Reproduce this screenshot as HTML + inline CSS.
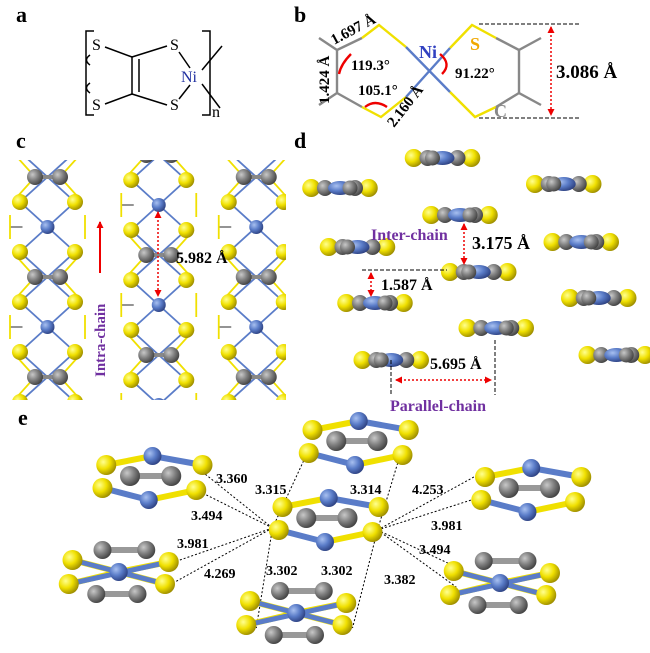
<!DOCTYPE html>
<html><head><meta charset="utf-8"><style>
html,body{margin:0;padding:0;background:#fff}
svg{display:block}
text{font-family:"Liberation Serif",serif}
</style></head><body>
<svg id="s" width="650" height="653" viewBox="0 0 650 653" xmlns="http://www.w3.org/2000/svg">
<defs>
<radialGradient id="gy" cx="35%" cy="35%" r="70%"><stop offset="0" stop-color="#ffff90"/><stop offset=".5" stop-color="#f0e000"/><stop offset="1" stop-color="#9a8a00"/></radialGradient>
<radialGradient id="gg" cx="35%" cy="35%" r="70%"><stop offset="0" stop-color="#c8c8c8"/><stop offset=".5" stop-color="#808080"/><stop offset="1" stop-color="#404040"/></radialGradient>
<radialGradient id="gb" cx="35%" cy="35%" r="70%"><stop offset="0" stop-color="#a8c0f0"/><stop offset=".5" stop-color="#5a7cc8"/><stop offset="1" stop-color="#2c4080"/></radialGradient>
<clipPath id="cc"><rect x="0" y="160" width="286" height="240"/></clipPath>
<marker id="ar" markerUnits="userSpaceOnUse" markerWidth="7" markerHeight="7" refX="6" refY="3.5" orient="auto"><path d="M0,0 L7,3.5 L0,7 z" fill="#e00"/></marker>
<marker id="as" markerUnits="userSpaceOnUse" markerWidth="7" markerHeight="7" refX="1" refY="3.5" orient="auto"><path d="M7,0 L0,3.5 L7,7 z" fill="#e00"/></marker>
</defs>
<g font-weight="bold" font-size="22" fill="#000">
<text x="16" y="22">a</text><text x="294" y="22">b</text><text x="16" y="148">c</text><text x="294" y="148">d</text><text x="18" y="425">e</text>
</g>
<!-- panel a -->
<g stroke="#000" stroke-width="1.5" fill="none">
<path d="M94,31 H86 V115 H94"/><path d="M202,31 H210 V115 H202"/>
<path d="M90,55 q-7,5 0,10"/><path d="M90,83 q-7,5 0,10"/>
<line x1="105" y1="47" x2="132" y2="57"/><line x1="105" y1="104" x2="132" y2="94"/>
<line x1="132" y1="57" x2="132" y2="94"/><line x1="139" y1="59" x2="139" y2="92"/>
<line x1="132" y1="57" x2="167" y2="46"/><line x1="132" y1="94" x2="167" y2="105"/>
<line x1="179" y1="52" x2="190" y2="68"/><line x1="179" y1="99" x2="190" y2="85"/>
<line x1="202" y1="70" x2="222" y2="46"/><line x1="202" y1="84" x2="220" y2="108"/>
</g>
<g font-size="16"><text x="92" y="50">S</text><text x="92" y="110">S</text><text x="170" y="50">S</text><text x="170" y="110">S</text>
<text x="181" y="82" fill="#2030a0">Ni</text><text x="212" y="117">n</text></g>
<!-- panel b -->
<g stroke-width="2.4" fill="none">
<g stroke="#888"><path d="M319,38 L337,50 L337,93 L319,105"/><path d="M337,50 L362,38"/><path d="M337,93 L362,107"/>
<path d="M541,38 L519,50 L519,93 L541,105"/><path d="M496,38 L519,50"/><path d="M496,107 L519,93"/></g>
<g stroke="#f0e000"><path d="M362,38 L379,25 L406,47"/><path d="M362,107 L381,117 L406,97"/><path d="M450,48 L472,25 L496,38"/><path d="M450,92 L475,117 L496,107"/></g>
<g stroke="#5a7cc8"><path d="M406,47 L450,92"/><path d="M406,97 L450,48"/></g>
<g stroke="#e00"><path d="M351,54 q-10,10 -12,20"/><path d="M365,107 q10,-8 22,0"/><path d="M442,74 q10,-10 -2,-20"/></g>
</g>
<g stroke="#000" stroke-dasharray="4,2" stroke-width="1"><line x1="479" y1="24" x2="579" y2="24"/><line x1="479" y1="118" x2="579" y2="118"/></g>
<line x1="551" y1="27" x2="551" y2="115" stroke="#e00" stroke-width="1.5" stroke-dasharray="2,2" marker-start="url(#as)" marker-end="url(#ar)"/>
<g font-weight="bold" font-size="15"><text x="334" y="45" transform="rotate(-28 334 45)">1.697 Å</text>
<text x="329" y="104" transform="rotate(-90 329 104)">1.424 Å</text>
<text x="351" y="70">119.3°</text><text x="358" y="95">105.1°</text><text x="455" y="78">91.22°</text>
<text x="394" y="128" transform="rotate(-52 394 128)">2.160 Å</text>
<text x="556" y="78" font-size="19">3.086 Å</text></g>
<text x="419" y="58" font-size="18" font-weight="bold" fill="#3040c0">Ni</text>
<text x="470" y="50" font-size="18" font-weight="bold" fill="#f0a800">S</text>
<text x="494" y="117" font-size="18" font-weight="bold" fill="#888">C</text>
<g id="pc" clip-path="url(#cc)"></g>
<g id="pd"></g>
<g id="pe"></g>
<line x1="100" y1="273" x2="100" y2="222" stroke="#e00" stroke-width="2" marker-end="url(#ar)"/>
<text x="105" y="377" transform="rotate(-90 105 377)" font-size="15" font-weight="bold" fill="#7030a0">Intra-chain</text>
<line x1="158" y1="212" x2="158" y2="296" stroke="#e00" stroke-width="1.5" stroke-dasharray="2,2" marker-start="url(#as)" marker-end="url(#ar)"/>
<text x="176" y="263" font-size="16" font-weight="bold">5.982 Å</text>
<g stroke="#000" stroke-dasharray="4,2" stroke-width="1"><line x1="362" y1="270" x2="447" y2="270"/><line x1="391" y1="360" x2="391" y2="395"/><line x1="495" y1="340" x2="495" y2="395"/></g>
<line x1="464" y1="224" x2="464" y2="264" stroke="#e00" stroke-width="1.5" stroke-dasharray="2,2" marker-start="url(#as)" marker-end="url(#ar)"/>
<line x1="371" y1="273" x2="371" y2="296" stroke="#e00" stroke-width="1.5" stroke-dasharray="2,2" marker-start="url(#as)" marker-end="url(#ar)"/>
<line x1="396" y1="380" x2="491" y2="380" stroke="#e00" stroke-width="1.5" stroke-dasharray="2,2" marker-start="url(#as)" marker-end="url(#ar)"/>
<g font-weight="bold" font-size="16"><text x="371" y="240" fill="#7030a0">Inter-chain</text><text x="472" y="249" font-size="18">3.175 Å</text>
<text x="381" y="290">1.587 Å</text><text x="430" y="369">5.695 Å</text><text x="390" y="411" fill="#7030a0">Parallel-chain</text></g>
<g font-weight="bold" font-size="14"><text x="216" y="483">3.360</text><text x="255" y="494">3.315</text><text x="350" y="494">3.314</text><text x="412" y="494">4.253</text>
<text x="191" y="520">3.494</text><text x="431" y="530">3.981</text><text x="177" y="548">3.981</text><text x="419" y="554">3.494</text>
<text x="204" y="578">4.269</text><text x="266" y="575">3.302</text><text x="321" y="575">3.302</text><text x="384" y="584">3.382</text></g>
<script>
const NS="http://www.w3.org/2000/svg",K=1.25;
function el(p,t,a){const e=document.createElementNS(NS,t);for(const k in a)e.setAttribute(k,a[k]);p.appendChild(e);return e;}
function ball(p,x,y,r,c){el(p,"circle",{cx:x*K,cy:y,r:r,fill:"url(#g"+c+")"});}
function ln(p,x1,y1,x2,y2,c,w){el(p,"line",{x1:x1*K,y1,x2:x2*K,y2,stroke:c,"stroke-width":w||2});}
const pc=document.getElementById("pc");
function chain(cx,ph){
 for(let y=ph-200;y<480;y+=100){
  const gy=y, by=y+50;
  ln(pc,cx-28,gy-25,cx-10,gy,"#f0e000",1.8);ln(pc,cx+28,gy-25,cx+10,gy,"#f0e000",1.8);
  ln(pc,cx-28,gy+25,cx-10,gy,"#f0e000",1.8);ln(pc,cx+28,gy+25,cx+10,gy,"#f0e000",1.8);
  ln(pc,cx-22,gy-25,cx+22,gy+25,"#5a7cc8",1.8);ln(pc,cx+22,gy-25,cx-22,gy+25,"#5a7cc8",1.8);
  ln(pc,cx-22,by-25,cx+22,by+25,"#5a7cc8",1.8);ln(pc,cx+22,by-25,cx-22,by+25,"#5a7cc8",1.8);
  ln(pc,cx-30,by,cx-20,by,"#888",1.8);ln(pc,cx-30,by-12,cx-30,by+12,"#f0e000",1.8);
  ln(pc,cx+30,by-12,cx+30,by+12,"#f0e000",1.8);
  ln(pc,cx-10,gy,cx+10,gy,"#888",4);
  ball(pc,cx-10,gy,8,"g");ball(pc,cx+10,gy,8,"g");
  ball(pc,cx,by,7,"b");
  ball(pc,cx-22,gy-25,8,"y");ball(pc,cx+22,gy-25,8,"y");ball(pc,cx-22,gy+25,8,"y");ball(pc,cx+22,gy+25,8,"y");
 }
}
chain(38,177);chain(127,155);chain(205,177);
const pd=document.getElementById("pd");
[[354,158],[272,188],[451,184],[368,215],[286,247],[465,242],[383,272],[300,303],[479,298],[397,328],[313,360],[493,355]].forEach(([x,y],i)=>{
 ln(pd,x-22,y,x+22,y,"#f0e000",5);
 ball(pd,x-23,y,9,"y");ball(pd,x+23,y,9,"y");
 ball(pd,x-12,y,8,"g");ball(pd,x+12,y,8,"g");
 el(pd,"ellipse",{cx:x*K,cy:y,rx:12,ry:7,fill:"url(#gb)"});
 ball(pd,x+(i%2?8:-8),y,7.5,"g");
});
const pe=document.getElementById("pe");
const dl=[[218,528,162,472],[218,528,162,493],[218,528,248,447],[302,530,322,447],[302,530,382,475],[302,530,382,498],[218,528,137,563],[218,528,140,582],[218,528,205,628],[302,530,282,628],[302,530,365,567],[302,530,365,587]];
dl.forEach(d=>el(pe,"line",{x1:d[0]*K,y1:d[1],x2:d[2]*K,y2:d[3],stroke:"#000","stroke-width":1,"stroke-dasharray":"2,2"}));
function molA(cx,cy){
 const Y=[[-37,-13],[40,-13],[-40,10],[35,12]],B=[[0,-22],[-3,22]],G=[[-18,-2],[15,-2]];
 ln(pe,cx+G[0][0],cy+G[0][1],cx+G[1][0],cy+G[1][1],"#999",6);
 ln(pe,cx+Y[0][0],cy+Y[0][1],cx+B[0][0],cy+B[0][1],"#f0e000",6);ln(pe,cx+Y[1][0],cy+Y[1][1],cx+B[0][0],cy+B[0][1],"#5a7cc8",6);
 ln(pe,cx+Y[2][0],cy+Y[2][1],cx+B[1][0],cy+B[1][1],"#5a7cc8",6);ln(pe,cx+Y[3][0],cy+Y[3][1],cx+B[1][0],cy+B[1][1],"#f0e000",6);
 Y.forEach(p=>ball(pe,cx+p[0],cy+p[1],10,"y"));
 G.forEach(p=>ball(pe,cx+p[0],cy+p[1],10,"g"));
 B.forEach(p=>ball(pe,cx+p[0],cy+p[1],9,"b"));
}
function molB(cx,cy){
 const G=[[-13,-22],[22,-22],[-18,22],[15,22]],Y=[[-37,-12],[40,-10],[-40,12],[37,12]];
 ln(pe,cx-13,cy-22,cx+22,cy-22,"#999",6);ln(pe,cx-18,cy+22,cx+15,cy+22,"#999",6);
 Y.forEach(p=>ln(pe,cx,cy,cx+p[0],cy+p[1],"#f0e000",6));
 ln(pe,cx-37,cy-12,cx+37,cy+12,"#5a7cc8",5);ln(pe,cx+40,cy-10,cx-40,cy+12,"#5a7cc8",5);
 G.forEach(p=>ball(pe,cx+p[0],cy+p[1],9,"g"));
 Y.forEach(p=>ball(pe,cx+p[0],cy+p[1],10,"y"));
 ball(pe,cx,cy,9,"b");
}
molA(122,478);molA(287,443);molA(425,490);molA(263,520);
molB(95,572);molB(237,613);molB(400,583);
</script>
</svg>
</body></html>
